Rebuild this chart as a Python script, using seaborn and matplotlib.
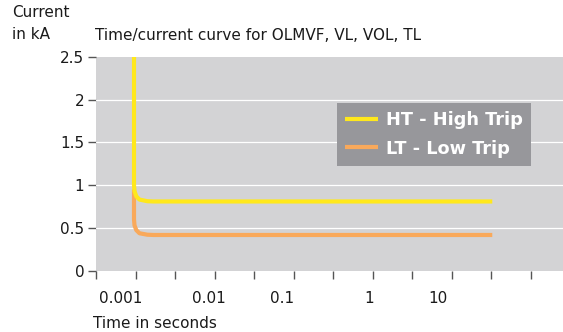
import matplotlib
matplotlib.use("Agg")
import matplotlib.pyplot as plt
import seaborn as sns
import pandas as pd

# Time/current curves, x in tick-slot units (one slot per tick mark), y in kA
ht_time = [0.962, 0.962, 0.975, 1.02, 1.1, 1.3, 1.45, 10.03]
ht_current = [2.5, 1.0, 0.93, 0.87, 0.832, 0.813, 0.81, 0.81]
lt_time = [0.962, 0.962, 0.975, 1.02, 1.1, 1.3, 1.45, 10.03]
lt_current = [0.95, 0.6, 0.53, 0.475, 0.438, 0.421, 0.418, 0.418]

series_names = ["HT - High Trip", "LT - Low Trip"]
series_colors = ["#FFE81C", "#F9A95B"]

y_ticks = [0, 0.5, 1, 1.5, 2, 2.5]
y_tick_labels = ["0", "0.5", "1", "1.5", "2", "2.5"]
x_tick_marks = list(range(12))
x_label_pos = [0.63, 2.86, 4.72, 6.91, 8.65]
x_labels = ["0.001", "0.01", "0.1", "1", "10"]

df = pd.concat([
    pd.DataFrame({"time": ht_time, "current": ht_current, "trip": series_names[0],
                  "order": range(len(ht_time))}),
    pd.DataFrame({"time": lt_time, "current": lt_current, "trip": series_names[1],
                  "order": range(len(lt_time))}),
])

sns.set_theme(style="white")
plt.rcParams["font.family"] = ["DejaVu Sans"]

FS = 11
TXT = "#1a1a1a"
W, H = 563, 332
fig = plt.figure(figsize=(W / 100, H / 100), dpi=100)
ax = fig.add_axes([96 / W, (H - 270.7) / H, (W - 96) / W, (270.7 - 57) / H])
ax.set_facecolor("#D3D3D5")

# draw LT first so HT sits on top where they overlap
for name, color, z in [(series_names[1], series_colors[1], 3), (series_names[0], series_colors[0], 4)]:
    sub = df[df["trip"] == name]
    sns.lineplot(data=sub, x="time", y="current", ax=ax, color=color, lw=3.0,
                 sort=False, estimator=None, label=name, zorder=z,
                 solid_joinstyle="round", solid_capstyle="butt")

ax.set_xlim(0, 11.82)
ax.set_ylim(0, 2.5)
for s in ax.spines.values():
    s.set_visible(False)

ax.set_yticks(y_ticks)
ax.set_yticklabels(y_tick_labels)
ax.tick_params(axis="y", length=5.5, width=1, color="#555555", pad=3, labelsize=FS,
               labelcolor=TXT, left=True)
for v in y_ticks[1:-1]:
    ax.axhline(v, color="white", lw=0.9, zorder=1)

ax.set_xticks(x_label_pos)
ax.set_xticklabels(x_labels)
ax.set_xticks(x_tick_marks, minor=True)
ax.tick_params(axis="x", which="major", length=0, pad=14.5, labelsize=FS, labelcolor=TXT)
ax.tick_params(axis="x", which="minor", length=5.5, width=1, color="#555555", bottom=True)
ax.set_xlabel("")
ax.set_ylabel("")

# texts
fig.text(12 / W, 1 - 17 / H, "Current", fontsize=FS, va="baseline", ha="left", color=TXT)
fig.text(12 / W, 1 - 39 / H, "in kA", fontsize=FS, va="baseline", ha="left", color=TXT)
fig.text(95 / W, 1 - 40 / H, "Time/current curve for OLMVF, VL, VOL, TL", fontsize=FS,
         va="baseline", ha="left", color=TXT)
fig.text(93 / W, 1 - 328.5 / H, "Time in seconds", fontsize=FS, va="baseline", ha="left",
         color=TXT)

handles, labels = ax.get_legend_handles_labels()
order = [labels.index(n) for n in series_names]
leg = ax.legend([handles[i] for i in order], [labels[i] for i in order],
                loc="upper left", bbox_to_anchor=(337 / W, 1 - 103 / H),
                bbox_transform=fig.transFigure, frameon=True, fancybox=False,
                framealpha=1, facecolor="#97979B", edgecolor="none",
                handlelength=1.85, handletextpad=0.45, borderpad=0.45, labelspacing=0.6,
                prop={"weight": "bold", "size": 12.8}, borderaxespad=0)
for t in leg.get_texts():
    t.set_color("white")
for ln in leg.get_lines():
    ln.set_linewidth(3.0)

fig.savefig("out.png", dpi=100)
